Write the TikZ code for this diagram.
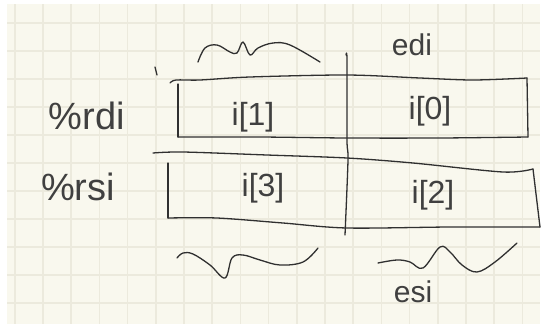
\documentclass[tikz,border=0pt]{standalone}
\usepackage{fontspec}
\setmainfont{Liberation Sans}
\definecolor{ink}{HTML}{303030}
\definecolor{textink}{HTML}{404040}
\definecolor{paper}{HTML}{F9F8EE}
\definecolor{gridc}{HTML}{ECEADD}
\begin{document}
\begin{tikzpicture}[x=1pt,y=-1pt,
  pen/.style={draw=ink, line width=1.3pt, line cap=round, line join=round},
  cell/.style={text=textink, inner sep=0pt, font=\fontsize{32}{32}\selectfont},
  reglabel/.style={text=textink, inner sep=0pt, font=\fontsize{38}{38}\selectfont},
  sublabel/.style={text=textink, inner sep=0pt, font=\fontsize{30}{30}\selectfont}]
\useasboundingbox (0,0) rectangle (546,327);
% paper
\fill[white] (0,0) rectangle (546,327);
\fill[paper] (7,4) rectangle (540,324);
\begin{scope}
\clip (7,4) rectangle (540,324);
\foreach \k in {0,...,19} {\draw[gridc, line width=1.5pt] (14.8+28.2*\k,4) -- (14.8+28.2*\k,324);}
\foreach \k in {0,...,10} {\draw[gridc, line width=1.5pt] (7,23+28*\k) -- (540,23+28*\k);}
\end{scope}
% top register box
\draw[pen] plot[smooth] coordinates {(170,83) (176,80) (200,80) (250,77) (347,75) (420,78) (473,80) (527,78)};
\draw[pen] (527,78) -- (528,137);
\draw[pen] plot[smooth] coordinates {(528,137) (440,138) (347,138) (260,137) (178,137)};
\draw[pen] (178,84) -- (178,137);
\draw[pen] (155,67) -- (157,75);
% lower register box
\draw[pen] plot[smooth] coordinates {(153,153) (183,152) (267,155) (347,158) (413,163) (503,172) (533,169)};
\draw[pen] (533,169) -- (540,227);
\draw[pen] plot[smooth] coordinates {(540,227) (450,227) (347,228) (283,223) (217,218) (168,218)};
\draw[pen] (168,163) -- (168,218);
% divider
\draw[pen] plot[smooth] coordinates {(346,55) (347,60) (347,140) (348,160) (345,235)};
% waves
\draw[pen] plot[smooth, tension=0.6] coordinates {(198,62) (205,48) (217,45) (230,52) (237,53) (243,42) (250,55) (258,48) (273,43) (290,45) (320,62)};
\draw[pen] plot[smooth, tension=0.6] coordinates {(177,258) (183,253) (193,254) (210,265) (225,278) (232,258) (243,255) (260,260) (280,265) (303,262) (318,248)};
\draw[pen] plot[smooth, tension=0.6] coordinates {(378,263) (397,260) (410,262) (423,268) (440,247) (450,252) (462,265) (477,272) (495,262) (517,243)};
% texts
\node[cell] (i1) at (253,117) {i[1]};
\node[cell] (i0) at (430,111) {i[0]};
\node[cell] (i3) at (263,188) {i[3]};
\node[cell] (i2) at (433,195) {i[2]};
\node[reglabel] (rdi) at (87,116) {\%rdi};
\node[reglabel] (rsi) at (78,187) {\%rsi};
\node[sublabel] (edi) at (412,45) {edi};
\node[sublabel] (esi) at (413,292) {esi};
\end{tikzpicture}
\end{document}
